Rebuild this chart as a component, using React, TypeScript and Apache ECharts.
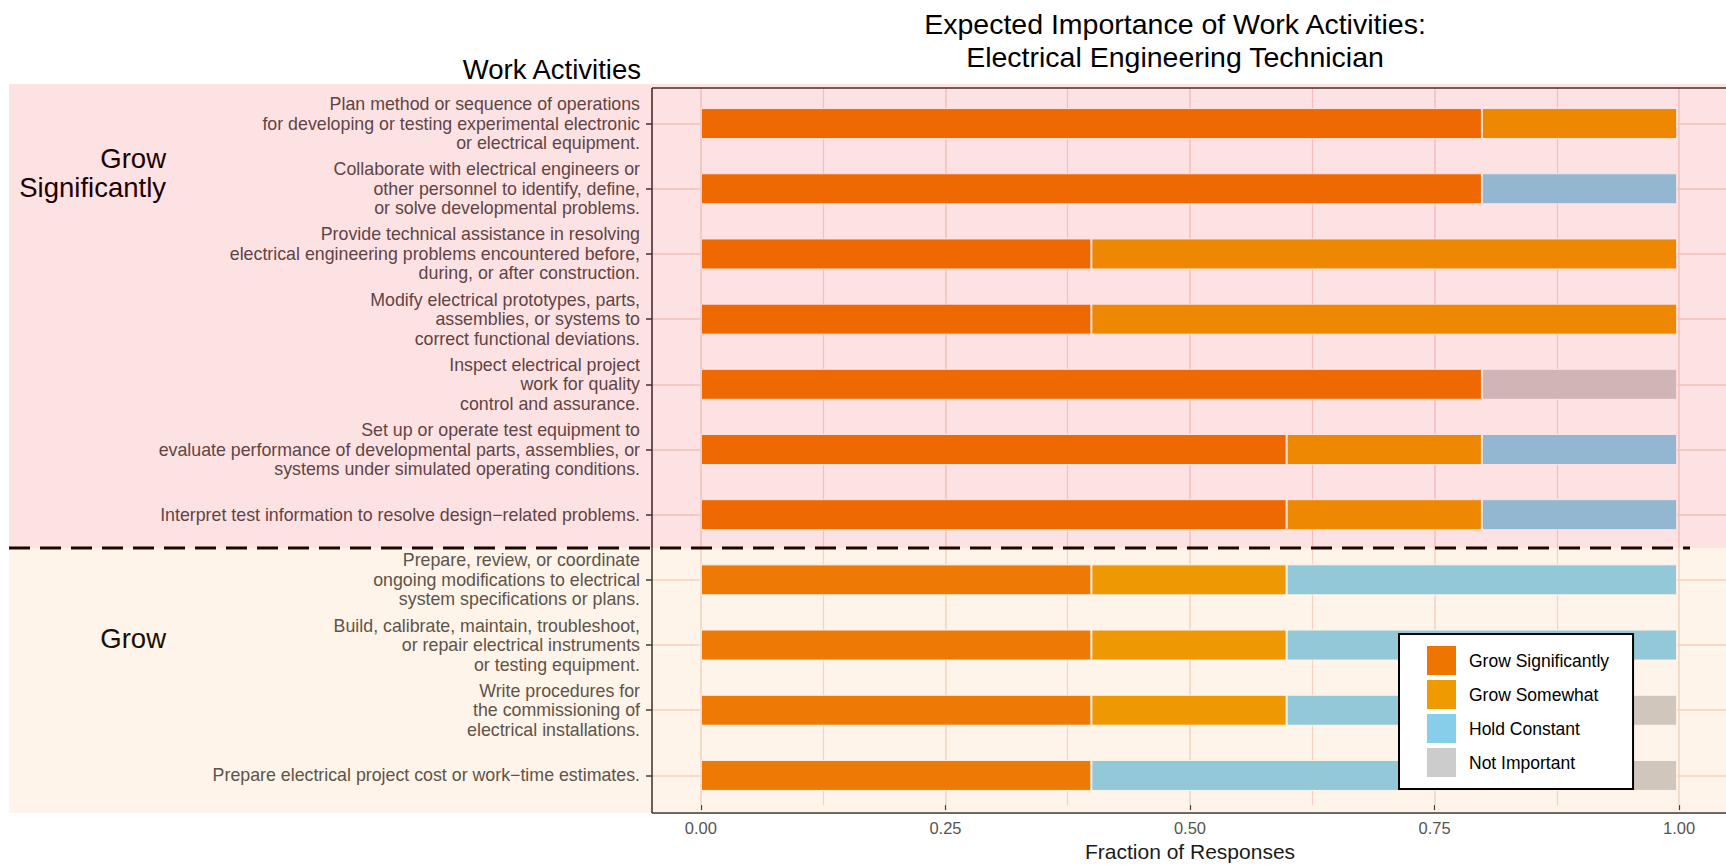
import React, { useEffect, useRef } from "react";
import * as echarts from "echarts";

const activities = [
  "Plan method or sequence of operations\nfor developing or testing experimental electronic\nor electrical equipment.",
  "Collaborate with electrical engineers or\nother personnel to identify, define,\nor solve developmental problems.",
  "Provide technical assistance in resolving\nelectrical engineering problems encountered before,\nduring, or after construction.",
  "Modify electrical prototypes, parts,\nassemblies, or systems to\ncorrect functional deviations.",
  "Inspect electrical project\nwork for quality\ncontrol and assurance.",
  "Set up or operate test equipment to\nevaluate performance of developmental parts, assemblies, or\nsystems under simulated operating conditions.",
  "Interpret test information to resolve design\u2212related problems.",
  "Prepare, review, or coordinate\nongoing modifications to electrical\nsystem specifications or plans.",
  "Build, calibrate, maintain, troubleshoot,\nor repair electrical instruments\nor testing equipment.",
  "Write procedures for\nthe commissioning of\nelectrical installations.",
  "Prepare electrical project cost or work\u2212time estimates.",
];

const growSignificantly = [0.8, 0.8, 0.4, 0.4, 0.8, 0.6, 0.6, 0.4, 0.4, 0.4, 0.4];
const growSomewhat = [0.2, 0, 0.6, 0.6, 0, 0.2, 0.2, 0.2, 0.2, 0.2, 0];
const holdConstant = [0, 0.2, 0, 0, 0, 0.2, 0.2, 0.4, 0.4, 0.2, 0.4];
const notImportant = [0, 0, 0, 0, 0.2, 0, 0, 0, 0, 0.2, 0.2];

const seriesNames = ["Grow Significantly", "Grow Somewhat", "Hold Constant", "Not Important"];
const seriesColors = ["#EE7600", "#EE9A00", "#87CEEB", "#CCCCCC"];
const xTicks = [0, 0.25, 0.5, 0.75, 1];

const FONT = "'Liberation Sans', Arial, Helvetica, sans-serif";
const GRID_COLOR = "#f5d8d2";

export default function App() {
  const ref = useRef<HTMLDivElement>(null);

  useEffect(() => {
    if (!ref.current) return;
    const chart = echarts.init(ref.current, null, { renderer: "svg" });

    const panelLeft = 652;
    const panelWidth = 1076;
    const unitLeft = panelLeft + (panelWidth * 0.05) / 1.1;
    const unitWidth = panelWidth / 1.1;

    const values = [growSignificantly, growSomewhat, holdConstant, notImportant];

    const series = values.map((arr, i) => ({
      name: seriesNames[i],
      type: "bar",
      stack: "total",
      xAxisIndex: 0,
      yAxisIndex: 0,
      barWidth: 31,
      itemStyle: { color: seriesColors[i], borderColor: "#ffffff", borderWidth: 1 },
      data: arr.map((v) => (v === 0 ? "-" : v)),
    }));

    const option: any = {
      animation: false,
      textStyle: { fontFamily: FONT },
      grid: [
        { left: panelLeft, width: panelWidth, top: 91, height: 717, containLabel: false },
        { left: unitLeft, width: unitWidth, top: 88, height: 725, containLabel: false },
      ],
      xAxis: [
        { type: "value", gridIndex: 0, min: -0.05, max: 1.05, show: false },
        {
          type: "value",
          gridIndex: 1,
          min: 0,
          max: 1,
          interval: 0.25,
          axisLine: { show: false, onZero: false },
          axisTick: { show: true, length: 5, lineStyle: { color: "#333", width: 1.2 } },
          axisLabel: {
            show: true,
            margin: 14,
            fontSize: 16.5,
            color: "#555",
            fontFamily: FONT,
            formatter: (v: number) => (xTicks.indexOf(v) >= 0 ? v.toFixed(2) : ""),
          },
          splitLine: { show: true, lineStyle: { color: GRID_COLOR, width: 1.5 } },
          minorTick: { show: false, splitNumber: 2 },
          minorSplitLine: { show: true, lineStyle: { color: GRID_COLOR, width: 1.2 } },
          name: "Fraction of Responses",
          nameLocation: "middle",
          nameGap: 31,
          nameTextStyle: { fontSize: 21, color: "#1a1a1a", fontFamily: FONT },
        },
      ],
      yAxis: [
        {
          type: "category",
          gridIndex: 0,
          data: activities,
          inverse: true,
          axisLine: { show: false, onZero: false },
          axisTick: { show: true, alignWithLabel: true, length: 6, lineStyle: { color: "#333", width: 1.5 } },
          axisLabel: {
            fontSize: 17.8,
            lineHeight: 19.5,
            color: "#4d4d4d",
            margin: 12,
            fontFamily: FONT,
          },
          splitLine: { show: true, alignWithLabel: true, lineStyle: { color: GRID_COLOR, width: 1.5 } },
        },
        { type: "value", gridIndex: 1, min: 0, max: 1, show: false },
      ],
      legend: {
        orient: "vertical",
        left: 1399,
        top: 634,
        padding: [12, 24, 12, 28],
        itemGap: 5,
        itemWidth: 29,
        itemHeight: 29,
        icon: "rect",
        borderColor: "#000",
        borderWidth: 2,
        backgroundColor: "#ffffff",
        selectedMode: false,
        z: 100,
        itemStyle: { borderWidth: 0 },
        textStyle: { fontSize: 17.5, color: "#000", padding: [0, 0, 0, 8], fontFamily: FONT },
        data: seriesNames,
      },
      graphic: [
        {
          type: "text",
          x: 1175,
          y: 24,
          z: 100,
          style: {
            text: "Expected Importance of Work Activities:",
            textAlign: "center",
            textVerticalAlign: "middle",
            fontSize: 28.5,
            fontFamily: FONT,
            fill: "#000",
          },
        },
        {
          type: "text",
          x: 1175,
          y: 57,
          z: 100,
          style: {
            text: "Electrical Engineering Technician",
            textAlign: "center",
            textVerticalAlign: "middle",
            fontSize: 28.5,
            fontFamily: FONT,
            fill: "#000",
          },
        },
        {
          type: "text",
          x: 641,
          y: 69,
          z: 100,
          style: {
            text: "Work Activities",
            textAlign: "right",
            textVerticalAlign: "middle",
            fontSize: 27.5,
            fontFamily: FONT,
            fill: "#000",
          },
        },
        {
          type: "text",
          x: 166,
          y: 158,
          z: 10,
          style: { text: "Grow", textAlign: "right", textVerticalAlign: "middle", fontSize: 27.5, fontFamily: FONT, fill: "#000" },
        },
        {
          type: "text",
          x: 166,
          y: 187,
          z: 10,
          style: { text: "Significantly", textAlign: "right", textVerticalAlign: "middle", fontSize: 27.5, fontFamily: FONT, fill: "#000" },
        },
        {
          type: "text",
          x: 166,
          y: 638,
          z: 10,
          style: { text: "Grow", textAlign: "right", textVerticalAlign: "middle", fontSize: 27.5, fontFamily: FONT, fill: "#000" },
        },
        { type: "line", z: 10, shape: { x1: 652, y1: 88, x2: 652, y2: 813 }, style: { stroke: "#333", lineWidth: 1.6 } },
        { type: "line", z: 10, shape: { x1: 652, y1: 88, x2: 1728, y2: 88 }, style: { stroke: "#333", lineWidth: 1.6 } },
        { type: "line", z: 10, shape: { x1: 652, y1: 813, x2: 1728, y2: 813 }, style: { stroke: "#333", lineWidth: 1.6 } },
        {
          type: "line",
          z: 12,
          shape: { x1: 9, y1: 548, x2: 1690, y2: 548 },
          style: { stroke: "#000", lineWidth: 3, lineDash: [21, 10] },
        },
        {
          type: "rect",
          z: 50,
          silent: true,
          shape: { x: 9, y: 84, width: 1717, height: 464 },
          style: { fill: "rgba(237,9,18,0.118)" },
        },
        {
          type: "rect",
          z: 50,
          silent: true,
          shape: { x: 9, y: 548, width: 1717, height: 265 },
          style: { fill: "rgba(250,150,40,0.1)" },
        },
      ],
      series,
    };

    chart.setOption(option);
    return () => chart.dispose();
  }, []);

  return (
    <div
      ref={ref}
      style={{ position: "fixed", left: 0, top: 0, width: 1726, height: 867, background: "#ffffff" }}
    />
  );
}
